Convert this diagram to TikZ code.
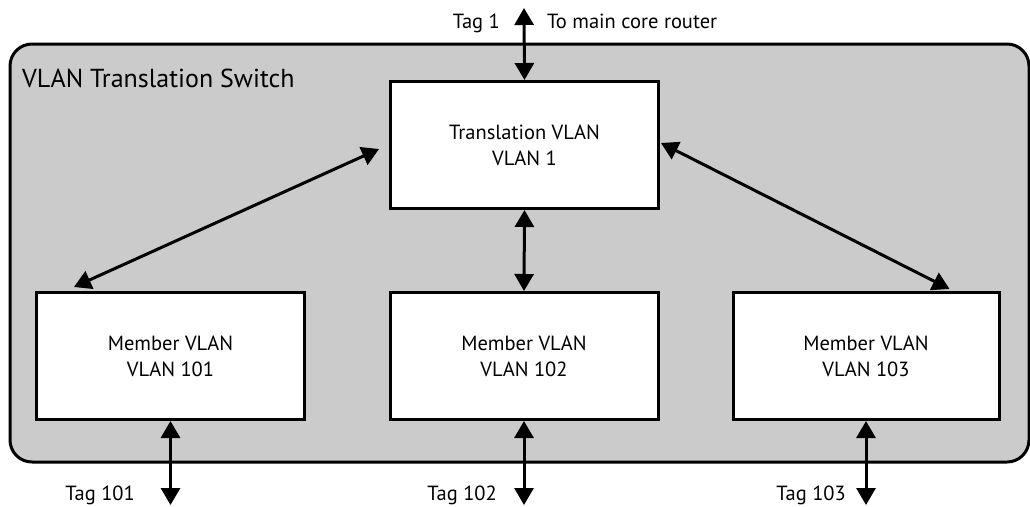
\documentclass[tikz,border=0pt]{standalone}
\usepackage{fontspec}
\setmainfont{PT Sans}
\usetikzlibrary{arrows.meta,calc}
\definecolor{swgray}{HTML}{CBCBCB}
\begin{document}
\begin{tikzpicture}[x=1pt,y=-1pt,
  vbox/.style={draw=black,line width=3pt,fill=white,minimum width=268pt,minimum height=127pt,inner sep=0pt,align=center,font=\fontsize{20.5}{26}\selectfont},
  conn/.style={line width=3pt,{Triangle[length=17pt,width=19pt]}-{Triangle[length=17pt,width=19pt]}},
  lbl/.style={font=\fontsize{20.5}{24}\selectfont,inner sep=0pt}]
\useasboundingbox (0,0) rectangle (1030,506);
\node[draw=black,line width=3pt,fill=swgray,rounded corners=22pt,minimum width=1019pt,minimum height=418pt,inner sep=0pt] (switch) at (519.5,253) {};
\node[anchor=base west,inner sep=0pt,font=\fontsize{26}{30}\selectfont] (title) at (22,87) {VLAN Translation Switch};
\node[vbox] (trans) at (524.5,145) {Translation VLAN\\VLAN 1};
\node[vbox] (m1) at (170.5,356) {Member VLAN\\VLAN 101};
\node[vbox] (m2) at (524,356) {Member VLAN\\VLAN 102};
\node[vbox,minimum width=266pt] (m3) at (866,356) {Member VLAN\\VLAN 103};
\coordinate (core) at (524,8);
\coordinate (b1) at (170.5,505);
\coordinate (b2) at (524,505);
\coordinate (b3) at (866,505);
\draw[conn] (core) -- (trans.north);
\draw[conn] (trans.south) -- (m2.north);
\draw[conn] ($(trans.west)+(-10,4)$) -- ($(m1.north west)+(39,-4)$);
\draw[conn] ($(trans.east)+(1,-2)$) -- ($(m3.north west)+(218,-2)$);
\draw[conn] (m1.south) -- (b1);
\draw[conn] (m2.south) -- (b2);
\draw[conn] (m3.south) -- (b3);
\node[lbl,anchor=base east] (tag1) at (500,28) {Tag 1};
\node[lbl,anchor=base west] (corelbl) at (547,28) {To main core router};
\node[lbl,anchor=base east] (tag101) at (135,500) {Tag 101};
\node[lbl,anchor=base east] (tag102) at (497,500) {Tag 102};
\node[lbl,anchor=base east] (tag103) at (846,500) {Tag 103};
\end{tikzpicture}
\end{document}
